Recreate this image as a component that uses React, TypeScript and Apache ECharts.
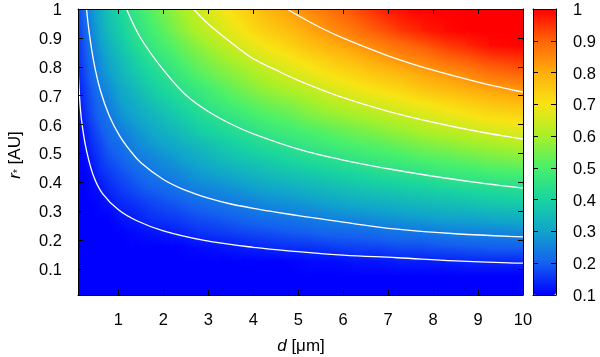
import React, { useEffect, useRef } from "react";
import * as echarts from "echarts";

// Axis ranges
const D_MIN = 0.1;
const D_MAX = 10;
const R_MIN = 0.01;
const R_MAX = 1;

// Positions (data coordinates) where the colour value was read
const dSamples = [0.15, 0.275, 0.425, 0.6, 0.8, 1.05, 1.35, 1.75, 2.25, 2.75, 3.25, 3.75, 4.25, 4.75, 5.25, 5.75, 6.25, 6.75, 7.25, 7.75, 8.25, 8.75, 9.25, 9.75];
const rSamples = [0.03, 0.075, 0.125, 0.175, 0.225, 0.275, 0.325, 0.375, 0.425, 0.475, 0.525, 0.575, 0.625, 0.675, 0.725, 0.775, 0.825, 0.875, 0.925, 0.975];

// Colour value read at each sample, rows from r = 0.03 (bottom) up to r = 0.975 (top)
const field = [
  [0.10,0.10,0.10,0.10,0.10,0.10,0.10,0.10,0.10,0.10,0.10,0.10,0.10,0.10,0.10,0.10,0.10,0.10,0.10,0.10,0.10,0.10,0.10,0.10],
  [0.10,0.10,0.10,0.10,0.10,0.10,0.10,0.10,0.10,0.10,0.10,0.10,0.10,0.10,0.10,0.10,0.10,0.10,0.10,0.10,0.10,0.10,0.10,0.10],
  [0.10,0.10,0.10,0.10,0.10,0.10,0.10,0.10,0.10,0.10,0.10,0.10,0.10,0.10,0.11,0.11,0.12,0.12,0.13,0.13,0.13,0.14,0.14,0.14],
  [0.10,0.10,0.10,0.10,0.10,0.10,0.10,0.10,0.10,0.11,0.12,0.13,0.14,0.15,0.15,0.16,0.17,0.17,0.18,0.18,0.19,0.19,0.20,0.20],
  [0.10,0.10,0.10,0.10,0.10,0.10,0.11,0.12,0.13,0.15,0.16,0.17,0.18,0.19,0.20,0.21,0.21,0.22,0.23,0.23,0.24,0.25,0.25,0.26],
  [0.10,0.10,0.10,0.10,0.10,0.12,0.13,0.15,0.16,0.18,0.19,0.21,0.22,0.23,0.24,0.25,0.26,0.27,0.28,0.29,0.30,0.30,0.31,0.32],
  [0.10,0.10,0.10,0.11,0.12,0.14,0.15,0.17,0.19,0.21,0.23,0.24,0.26,0.27,0.28,0.30,0.31,0.32,0.33,0.34,0.35,0.36,0.37,0.38],
  [0.10,0.10,0.11,0.12,0.14,0.16,0.18,0.20,0.22,0.25,0.26,0.28,0.30,0.31,0.33,0.34,0.36,0.37,0.38,0.39,0.40,0.41,0.42,0.43],
  [0.10,0.10,0.12,0.14,0.16,0.18,0.20,0.23,0.25,0.28,0.30,0.32,0.34,0.36,0.37,0.39,0.40,0.42,0.43,0.44,0.46,0.47,0.48,0.49],
  [0.10,0.11,0.13,0.16,0.18,0.20,0.23,0.25,0.28,0.31,0.34,0.36,0.38,0.40,0.42,0.43,0.45,0.47,0.48,0.50,0.51,0.52,0.54,0.55],
  [0.10,0.12,0.15,0.17,0.20,0.22,0.25,0.28,0.31,0.34,0.37,0.40,0.42,0.44,0.46,0.48,0.50,0.51,0.53,0.55,0.56,0.58,0.59,0.61],
  [0.10,0.13,0.16,0.19,0.22,0.24,0.27,0.31,0.34,0.38,0.41,0.43,0.46,0.48,0.50,0.52,0.54,0.56,0.58,0.60,0.62,0.63,0.65,0.67],
  [0.11,0.15,0.18,0.21,0.23,0.27,0.30,0.33,0.37,0.41,0.44,0.47,0.50,0.52,0.55,0.57,0.59,0.61,0.63,0.65,0.67,0.69,0.71,0.72],
  [0.12,0.16,0.19,0.22,0.25,0.29,0.32,0.36,0.40,0.44,0.48,0.51,0.54,0.56,0.59,0.62,0.64,0.66,0.68,0.70,0.72,0.74,0.76,0.78],
  [0.13,0.17,0.20,0.24,0.27,0.31,0.34,0.39,0.43,0.47,0.51,0.55,0.58,0.61,0.63,0.66,0.69,0.71,0.73,0.76,0.78,0.80,0.82,0.84],
  [0.14,0.18,0.22,0.26,0.29,0.33,0.37,0.41,0.46,0.51,0.55,0.58,0.62,0.65,0.68,0.71,0.73,0.76,0.78,0.81,0.83,0.85,0.88,0.90],
  [0.15,0.19,0.23,0.27,0.31,0.35,0.39,0.44,0.49,0.54,0.58,0.62,0.66,0.69,0.72,0.75,0.78,0.81,0.84,0.86,0.89,0.91,0.93,0.95],
  [0.15,0.20,0.25,0.29,0.33,0.37,0.42,0.47,0.52,0.57,0.62,0.66,0.70,0.73,0.77,0.80,0.83,0.86,0.89,0.91,0.94,0.96,0.99,1.00],
  [0.16,0.21,0.26,0.31,0.35,0.39,0.44,0.49,0.55,0.61,0.65,0.70,0.74,0.77,0.81,0.84,0.88,0.91,0.94,0.97,0.99,1.00,1.00,1.00],
  [0.17,0.23,0.28,0.32,0.37,0.41,0.46,0.52,0.58,0.64,0.69,0.73,0.78,0.82,0.85,0.89,0.92,0.96,0.99,1.00,1.00,1.00,1.00,1.00],
];

// White contour lines [d, r]
const contour1 = [[0.1,0.8],[0.15,0.66],[0.2,0.59],[0.29,0.51],[0.45,0.42],[0.65,0.36],[1,0.305],[1.41,0.267],[2,0.232],[2.88,0.2],[4,0.175],[5,0.16],[6,0.148],[7.2,0.139],[8.5,0.128],[10,0.12]];
const contour2 = [[0.29,1],[0.35,0.918],[0.45,0.818],[0.6,0.717],[0.8,0.629],[1.03,0.56],[1.26,0.51],[1.5,0.468],[2,0.41],[2.5,0.372],[3,0.345],[3.5,0.325],[4.37,0.3],[5,0.285],[6,0.262],[7.2,0.238],[8.5,0.222],[10,0.211]];
const contour3 = [[1.18,1],[1.5,0.898],[2,0.789],[2.5,0.702],[3,0.645],[3.5,0.602],[4,0.568],[5,0.515],[6,0.477],[7,0.447],[8,0.421],[9,0.399],[10,0.38]];
const contour4 = [[2.67,1],[3,0.948],[3.5,0.885],[4,0.828],[4.5,0.789],[5,0.753],[6,0.693],[7,0.646],[8,0.608],[9,0.576],[10,0.55]];
const contour5 = [[4.75,1],[5,0.977],[5.5,0.935],[6,0.899],[7,0.838],[8,0.788],[9,0.747],[10,0.712]];

const xTickValues = [1, 2, 3, 4, 5, 6, 7, 8, 9, 10];
const yTickValues = [0.1, 0.2, 0.3, 0.4, 0.5, 0.6, 0.7, 0.8, 0.9, 1];
const cbTickValues = [0.1, 0.2, 0.3, 0.4, 0.5, 0.6, 0.7, 0.8, 0.9, 1];

// Colour range and palette knots (evenly spaced over the range)
const CB_MIN = 0.1;
const CB_MAX = 1;
const palette = ["#0000ff", "#1460f0", "#10a4cc", "#18d4a0", "#48f06c", "#a8f028", "#f8e414", "#ffae0c", "#ff6408", "#ff0000"];

const FONT = "'Liberation Sans', Arial, Helvetica, sans-serif";

function colorOf(v: number): string {
  let n = (v - CB_MIN) / (CB_MAX - CB_MIN);
  if (n < 0) n = 0;
  if (n > 1) n = 1;
  return echarts.color.lerp(n, palette) as string;
}

export default function App() {
  const ref = useRef<HTMLDivElement>(null);
  useEffect(() => {
    const chart = echarts.init(ref.current as HTMLDivElement, null, { renderer: "svg" });
    const nd = dSamples.length;
    const nr = rSamples.length;
    const cells: number[][] = [];
    for (let j = 0; j < nr - 1; j++) {
      for (let i = 0; i < nd - 1; i++) {
        const x0 = i === 0 ? D_MIN : dSamples[i];
        const x1 = i === nd - 2 ? D_MAX : dSamples[i + 1];
        const y0 = j === 0 ? R_MIN : rSamples[j];
        const y1 = j === nr - 2 ? R_MAX : rSamples[j + 1];
        const v00 = field[j][i];
        const v10 = field[j][i + 1];
        const v01 = field[j + 1][i];
        const v11 = field[j + 1][i + 1];
        cells.push([x0, x1, y0, y1, (v00 + v10 + v01 + v11) / 4, v00, v10, v01, v11]);
      }
    }
    const knots = palette.map((_, k) => CB_MIN + (k * (CB_MAX - CB_MIN)) / (palette.length - 1));

    const axisLine = { show: true, onZero: false, lineStyle: { color: "#000", width: 1 } };
    const tickStyle = { color: "#000", width: 1 };
    const labelBase = { fontSize: 16.5, color: "#000", fontFamily: FONT };
    const contourSeries = [contour1, contour2, contour3, contour4, contour5].map((c) => ({
      type: "line",
      xAxisIndex: 0,
      yAxisIndex: 0,
      data: c,
      smooth: 0.4,
      symbol: "none",
      showSymbol: false,
      silent: true,
      z: 5,
      lineStyle: { color: "#ffffff", width: 1.3 },
    }));
    const option: any = {
      animation: false,
      grid: [
        { left: 78, top: 9, width: 445, height: 286 },
        { left: 533, top: 9, width: 23, height: 286 },
      ],
      xAxis: [
        {
          gridIndex: 0, type: "value", min: D_MIN, max: D_MAX, position: "bottom", z: 10,
          axisLine, splitLine: { show: false },
          axisTick: { show: true, inside: true, length: 5, customValues: xTickValues, lineStyle: tickStyle },
          axisLabel: { show: true, customValues: xTickValues, margin: 15, ...labelBase },
        },
        {
          gridIndex: 0, type: "value", min: D_MIN, max: D_MAX, position: "top", z: 10,
          axisLine, splitLine: { show: false },
          axisTick: { show: true, inside: true, length: 5, customValues: xTickValues, lineStyle: tickStyle },
          axisLabel: { show: false },
        },
        {
          gridIndex: 1, type: "value", min: 0, max: 1, position: "bottom", z: 10,
          axisLine, splitLine: { show: false }, axisTick: { show: false }, axisLabel: { show: false },
        },
        {
          gridIndex: 1, type: "value", min: 0, max: 1, position: "top", z: 10,
          axisLine, splitLine: { show: false }, axisTick: { show: false }, axisLabel: { show: false },
        },
      ],
      yAxis: [
        {
          gridIndex: 0, type: "value", min: R_MIN, max: R_MAX, position: "left", z: 10,
          axisLine, splitLine: { show: false },
          axisTick: { show: true, inside: true, length: 5, customValues: yTickValues, lineStyle: tickStyle },
          axisLabel: { show: true, customValues: yTickValues, margin: 16, ...labelBase },
        },
        {
          gridIndex: 0, type: "value", min: R_MIN, max: R_MAX, position: "right", z: 10,
          axisLine, splitLine: { show: false },
          axisTick: { show: true, inside: true, length: 5, customValues: yTickValues, lineStyle: tickStyle },
          axisLabel: { show: false },
        },
        {
          gridIndex: 1, type: "value", min: CB_MIN, max: CB_MAX, position: "left", z: 10,
          axisLine, splitLine: { show: false },
          axisTick: { show: true, inside: true, length: 5, customValues: cbTickValues, lineStyle: tickStyle },
          axisLabel: { show: false },
        },
        {
          gridIndex: 1, type: "value", min: CB_MIN, max: CB_MAX, position: "right", z: 10,
          axisLine, splitLine: { show: false },
          axisTick: { show: true, inside: true, length: 5, customValues: cbTickValues, lineStyle: tickStyle },
          axisLabel: { show: true, customValues: cbTickValues, margin: 17, ...labelBase },
        },
      ],
      visualMap: {
        type: "continuous",
        min: CB_MIN,
        max: CB_MAX,
        dimension: 4,
        seriesIndex: 0,
        show: true,
        calculable: false,
        hoverLink: false,
        orient: "vertical",
        left: 533,
        top: 9,
        itemWidth: 23,
        itemHeight: 286,
        padding: 0,
        inRange: { color: palette },
      },
      series: [
        {
          type: "custom",
          xAxisIndex: 0,
          yAxisIndex: 0,
          clip: true,
          silent: true,
          z: 2,
          encode: { x: [0, 1], y: [2, 3] },
          data: cells,
          renderItem: (params: any, api: any) => {
            const a = api.coord([api.value(0), api.value(2)]);
            const b = api.coord([api.value(1), api.value(3)]);
            const left = Math.min(a[0], b[0]);
            const top = Math.min(a[1], b[1]);
            const w = Math.abs(b[0] - a[0]);
            const h = Math.abs(a[1] - b[1]);
            const v00 = api.value(5);
            const v10 = api.value(6);
            const v01 = api.value(7);
            const v11 = api.value(8);
            const m = (v00 + v10 + v01 + v11) / 4;
            const gx = ((v10 - v00) + (v11 - v01)) / 2 / w;
            const gy = -((v01 - v00) + (v11 - v10)) / 2 / h;
            const gl = Math.hypot(gx, gy);
            let fill: any;
            if (gl * Math.hypot(w, h) < 0.002) {
              fill = colorOf(m);
            } else {
              const ux = gx / gl;
              const uy = gy / gl;
              const t = (Math.abs(ux) * w + Math.abs(uy) * h) / 2 + 1.5;
              const cx = left + w / 2;
              const cy = top + h / 2;
              const f0 = m - gl * t;
              const f1 = m + gl * t;
              const stops: { offset: number; color: string }[] = [{ offset: 0, color: colorOf(f0) }];
              knots.forEach((k) => {
                if (k > f0 && k < f1) stops.push({ offset: (k - f0) / (f1 - f0), color: colorOf(k) });
              });
              stops.push({ offset: 1, color: colorOf(f1) });
              fill = {
                type: "linear",
                x: cx - ux * t,
                y: cy - uy * t,
                x2: cx + ux * t,
                y2: cy + uy * t,
                global: true,
                colorStops: stops,
              };
            }
            return {
              type: "rect",
              shape: { x: left - 0.5, y: top - 0.5, width: w + 1, height: h + 1 },
              style: { fill },
            };
          },
        },
        ...contourSeries,
      ],
      graphic: [
        {
          type: "text",
          x: 301,
          y: 345,
          style: {
            text: "{i|d} [μm]",
            textAlign: "center",
            textVerticalAlign: "middle",
            fontSize: 17,
            fontFamily: FONT,
            fill: "#000",
            rich: { i: { fontStyle: "italic", fontSize: 17, fontFamily: FONT, fill: "#000" } },
          },
        },
        {
          type: "text",
          x: 14,
          y: 155,
          rotation: Math.PI / 2,
          style: {
            text: "{i|r}{s|*} [AU]",
            textAlign: "center",
            textVerticalAlign: "middle",
            fontSize: 17,
            fontFamily: FONT,
            fill: "#000",
            rich: {
              i: { fontStyle: "italic", fontSize: 17, fontFamily: FONT, fill: "#000" },
              s: { fontSize: 10, fontFamily: FONT, fill: "#000", verticalAlign: "bottom", padding: [6, 0, 0, 0] },
            },
          },
        },
      ],
    };
    chart.setOption(option);
    return () => chart.dispose();
  }, []);
  return <div ref={ref} style={{ position: "fixed", left: 0, top: 0, width: 600, height: 357 }} />;
}
